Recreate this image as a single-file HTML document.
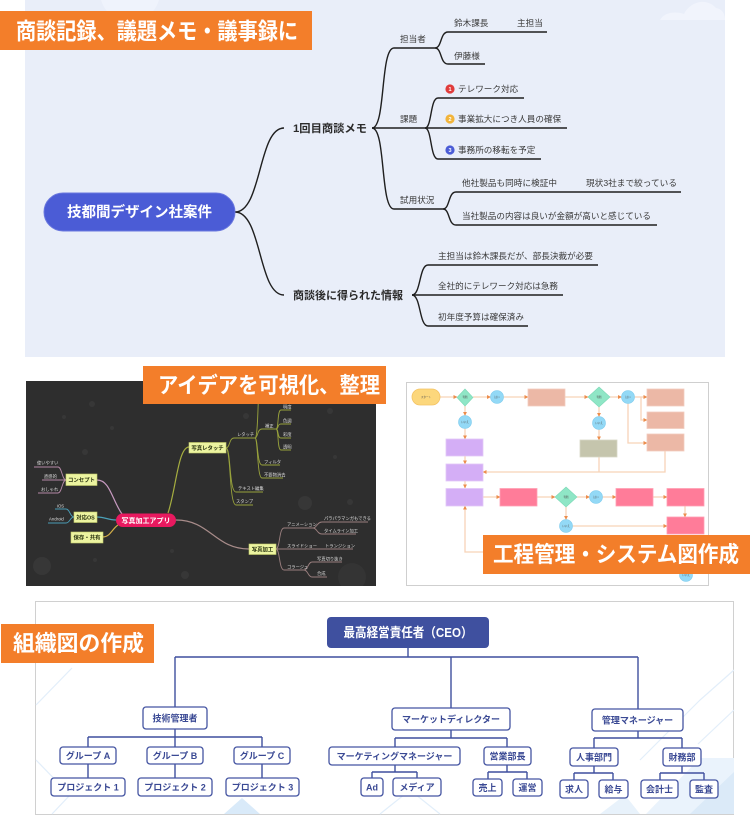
<!DOCTYPE html>
<html><head><meta charset="utf-8">
<style>
html,body{margin:0;padding:0;background:#fff;width:750px;height:815px;overflow:hidden}
svg{display:block}
text{font-family:"Liberation Sans","Noto Sans CJK JP",sans-serif}
</style></head><body>
<svg width="750" height="815" viewBox="0 0 750 815" xmlns="http://www.w3.org/2000/svg">
<defs>
<marker id="ar" markerWidth="4" markerHeight="4" refX="3.6" refY="2" orient="auto" markerUnits="userSpaceOnUse"><path d="M0,0 L4,2 L0,4 z" fill="#ec8d4c"/></marker>
<clipPath id="dk"><rect x="26" y="381" width="350" height="205"/></clipPath>
</defs>

<!-- ================= TOP PANEL ================= -->
<rect x="25" y="0" width="700" height="357" fill="#e9eef9"/>
<circle cx="130" cy="-8" r="30" fill="#eff3fc"/>
<path d="M660,20 C664,12 676,11 684,14 C690,2 706,-3 716,8 C721,9 725,12 725,20 Z" fill="#f1f4fc"/>

<rect x="0" y="11" width="312" height="39" fill="#f37e2a"/>
<text x="16" y="39" font-size="23" font-weight="bold" fill="#fff" textLength="282" lengthAdjust="spacingAndGlyphs">商談記録、議題メモ・議事録に</text>

<g fill="none" stroke="#1f1f1f" stroke-width="1.4">
<path d="M235,212 C262,212 258,128 284,128"/>
<path d="M235,212 C262,212 258,295 284,295"/>
<path d="M372,128 C386,128 380,48 394,48 L435,48"/>
<path d="M372,128 L425,128"/>
<path d="M372,128 C386,128 380,209 394,209 L443,209"/>
<path d="M435,48 C442,48 440,32 448,32 L547,32"/>
<path d="M435,48 C442,48 440,64 448,64 L485,64"/>
<path d="M425,128 C432,128 430,98 438,98 L524,98"/>
<path d="M425,128 L567,128"/>
<path d="M425,128 C432,128 430,159 438,159 L541,159"/>
<path d="M443,209 C450,209 448,192 456,192 L681,192"/>
<path d="M443,209 C450,209 448,225 456,225 L657,225"/>
<path d="M412,295 C421,295 419,265 428,265 L598,265"/>
<path d="M412,295 L563,295"/>
<path d="M412,295 C421,295 419,326 428,326 L528,326"/>
</g>

<rect x="44" y="193" width="191" height="38" rx="19" fill="#4b5cd6" stroke="#6a78de" stroke-width="1"/>
<text x="139.5" y="217" font-size="14.5" font-weight="bold" fill="#fff" text-anchor="middle" textLength="145" lengthAdjust="spacingAndGlyphs">技都間デザイン社案件</text>

<g fill="#2b2b2b">
<text x="293" y="132" font-size="11" font-weight="bold" textLength="74" lengthAdjust="spacingAndGlyphs">1回目商談メモ</text>
<text x="293" y="299" font-size="11" font-weight="bold" textLength="110" lengthAdjust="spacingAndGlyphs">商談後に得られた情報</text>
</g>
<g fill="#3a3a3a" font-size="8.6">
<text x="400" y="42">担当者</text>
<text x="454" y="26">鈴木課長</text>
<text x="517" y="26">主担当</text>
<text x="454" y="59">伊藤様</text>
<text x="400" y="122">課題</text>
<text x="458" y="92">テレワーク対応</text>
<text x="458" y="122">事業拡大につき人員の確保</text>
<text x="458" y="153">事務所の移転を予定</text>
<text x="400" y="203">試用状況</text>
<text x="462" y="186" textLength="95" lengthAdjust="spacingAndGlyphs">他社製品も同時に検証中</text>
<text x="586" y="186" textLength="91" lengthAdjust="spacingAndGlyphs">現状3社まで絞っている</text>
<text x="462" y="219" textLength="189" lengthAdjust="spacingAndGlyphs">当社製品の内容は良いが金額が高いと感じている</text>
<text x="438" y="259" textLength="155" lengthAdjust="spacingAndGlyphs">主担当は鈴木課長だが、部長決裁が必要</text>
<text x="438" y="289" textLength="120" lengthAdjust="spacingAndGlyphs">全社的にテレワーク対応は急務</text>
<text x="438" y="320">初年度予算は確保済み</text>
</g>
<circle cx="450" cy="89" r="4.6" fill="#e03b3b"/>
<circle cx="450" cy="119" r="4.6" fill="#f2b43a"/>
<circle cx="450" cy="150" r="4.6" fill="#4b5cd6"/>
<g fill="#fff" font-size="5.5" font-weight="bold" text-anchor="middle">
<text x="450" y="91">1</text><text x="450" y="121">2</text><text x="450" y="152">3</text>
</g>

<!-- ================= DARK MIND MAP ================= -->
<rect x="26" y="381" width="350" height="205" fill="#2e2e2e"/>
<g fill="#373737" clip-path="url(#dk)">
<circle cx="92" cy="404" r="3"/><circle cx="85" cy="452" r="3"/><circle cx="42" cy="566" r="9"/>
<circle cx="305" cy="503" r="7"/><circle cx="185" cy="575" r="4"/><circle cx="352" cy="577" r="14" fill="#343434"/>
<circle cx="112" cy="428" r="2"/><circle cx="64" cy="417" r="2"/><circle cx="335" cy="457" r="2"/>
<circle cx="330" cy="411" r="3"/><circle cx="246" cy="416" r="3"/><circle cx="350" cy="502" r="3"/>
<circle cx="172" cy="551" r="2"/><circle cx="95" cy="560" r="2"/>
</g>

<g fill="none" stroke-width="1.2">
<path d="M122,514 C112,500 110,480 97,480" stroke="#c79ac0"/>
<path d="M116,520 C108,520 105,517 97,517" stroke="#4aa0b8"/>
<path d="M118,525 C112,529 110,537 103,537" stroke="#d2ae48"/>
<path d="M168,513 C176,490 178,447 189,447" stroke="#a6ae40"/>
<path d="M176,520 C210,520 215,549 249,549" stroke="#a88c8a"/>
</g>
<g fill="none" stroke-width="0.9">
<g stroke="#b488a6">
<path d="M66,480 C62,480 62,467 58,467 L34,467"/>
<path d="M66,480 L42,480"/>
<path d="M66,480 C62,480 62,493 58,493 L38,493"/>
</g>
<g stroke="#4a9cb5">
<path d="M74,517 C70,517 70,509 66,509 L55,509"/>
<path d="M74,517 C70,517 70,523 66,523 L48,523"/>
</g>
<g stroke="#98a23c">
<path d="M226,448 C230,448 229,438 234,438 L255,438"/>
<path d="M226,448 C231,448 229,492 236,492 L263,492"/>
<path d="M226,448 C231,448 229,505 236,505 L253,505"/>
<path d="M255,438 C258,438 257,429 262,429 L276,429"/>
<path d="M255,438 C258,438 257,465 262,465 L280,465"/>
<path d="M255,438 C258,438 257,478 262,478 L283,478"/>
<path d="M255,438 C258,438 258,400 259,381"/>
<path d="M276,429 C279,429 277,410 281,410 L291,410"/>
<path d="M276,429 C279,429 277,424 281,424 L291,424"/>
<path d="M276,429 C279,429 277,438 281,438 L291,438"/>
<path d="M276,429 C279,429 277,450 281,450 L291,450"/>
</g>
<g stroke="#9b7f7f">
<path d="M276,549 C280,549 279,528 284,528 L313,528"/>
<path d="M276,549 L353,549"/>
<path d="M276,549 C280,549 279,570 284,570 L304,570"/>
<path d="M313,528 C317,528 317,522 322,522 L368,522"/>
<path d="M313,528 C317,528 317,534 322,534 L356,534"/>
<path d="M304,570 C308,570 308,562 312,562 L342,562"/>
<path d="M304,570 C308,570 308,577 312,577 L327,577"/>
</g>
</g>

<rect x="116" y="513.5" width="60" height="13.5" rx="6.7" fill="#e8195f"/>
<text x="146" y="522.8" font-size="7" font-weight="bold" fill="#fff" text-anchor="middle">写真加工アプリ</text>

<g fill="#ecf4a0" stroke="#c3cc6a" stroke-width="0.6">
<rect x="189" y="442.5" width="37" height="10.5"/>
<rect x="66" y="474" width="31" height="11.5"/>
<rect x="74" y="512" width="23" height="10.5"/>
<rect x="71" y="532" width="32" height="11"/>
<rect x="249" y="544" width="27" height="10.5"/>
</g>
<g fill="#2a3410" font-size="5.4" font-weight="bold" text-anchor="middle">
<text x="207.5" y="449.8">写真レタッチ</text>
<text x="81.5" y="481.8">コンセプト</text>
<text x="85.5" y="519.3">対応OS</text>
<text x="87" y="539.5">保存・共有</text>
<text x="262.5" y="551.3">写真加工</text>
</g>
<g fill="#dcdcdc" font-size="4.3">
<text x="37" y="464.5">使いやすい</text>
<text x="44" y="478">直感的</text>
<text x="41" y="491">おしゃれ</text>
<text x="57" y="507.5">iOS</text>
<text x="49" y="520.5">Android</text>
<text x="237" y="436">レタッチ</text>
<text x="265" y="427.5">補正</text>
<text x="283" y="408.5">明度</text>
<text x="283" y="422.5">色調</text>
<text x="283" y="436">彩度</text>
<text x="283" y="448.5">透明</text>
<text x="264" y="463.5">フィルタ</text>
<text x="264" y="476.5">不要物消去</text>
<text x="238" y="490">テキスト編集</text>
<text x="236" y="503">スタンプ</text>
<text x="287" y="526">アニメーション</text>
<text x="287" y="547.5">スライドショー</text>
<text x="325" y="547.5">トランジション</text>
<text x="287" y="568.5">コラージュ</text>
<text x="324" y="520">パラパラマンガもできる</text>
<text x="324" y="532.5">タイムライン加工</text>
<text x="317" y="560.5">写真切り抜き</text>
<text x="317" y="575">合成</text>
</g>

<rect x="143" y="366" width="243" height="38" fill="#f37e2a"/>
<text x="158" y="393" font-size="22" font-weight="bold" fill="#fff" textLength="222" lengthAdjust="spacingAndGlyphs">アイデアを可視化、整理</text>

<!-- ================= FLOWCHART ================= -->
<rect x="406.5" y="382.5" width="302" height="203" fill="#fff" stroke="#cfcfcf" stroke-width="1"/>
<g fill="none" stroke="#f7d3b8" stroke-width="1.3" marker-end="url(#ar)">
<path d="M440,397 L457,397"/>
<path d="M473,397 L490.5,397"/>
<path d="M503.5,397 L528,397"/>
<path d="M565,397 L588,397"/>
<path d="M610,397 L621.5,397"/>
<path d="M634.5,397 L647,397"/>
<path d="M641,397 L641,420 L647,420"/>
<path d="M628,403.5 L628,443 L647,443"/>
<path d="M465,406 L465,415.5"/>
<path d="M465,428.5 L465,439"/>
<path d="M465,456 L465,464"/>
<path d="M465,481 L465,488"/>
<path d="M599,407 L599,416.5"/>
<path d="M599,429.5 L599,440"/>
<path d="M665,451 L665,472 L483,472"/>
<path d="M483,497 L500,497"/>
<path d="M537,497 L555,497"/>
<path d="M577,497 L589.5,497"/>
<path d="M602.5,497 L616,497"/>
<path d="M653,497 L667,497"/>
<path d="M685,506 L685,517"/>
<path d="M566,507 L566,519.5"/>
<path d="M572.5,526 L667,526"/>
<path d="M500,552 L465,552 L465,506"/>
</g>
<path d="M599,457 L599,472" stroke="#f7d3b8" stroke-width="1.3" fill="none"/>

<rect x="412" y="389" width="28" height="16" rx="8" fill="#fcd77c" stroke="#f4c465" stroke-width="0.8"/>
<polygon points="465,389 473,397.5 465,406 457,397.5" fill="#8fe6c6" stroke="#7dd9b7" stroke-width="0.6"/>
<polygon points="599,387 610,397 599,407 588,397" fill="#8fe6c6" stroke="#7dd9b7" stroke-width="0.6"/>
<polygon points="566,487 577,497 566,507 555,497" fill="#8fe6c6" stroke="#7dd9b7" stroke-width="0.6"/>
<g fill="#93d9f6" stroke="#7ecbed" stroke-width="0.6">
<circle cx="497" cy="397" r="6.5"/>
<circle cx="628" cy="397" r="6.5"/>
<circle cx="465" cy="422" r="6.5"/>
<circle cx="599" cy="423" r="6.5"/>
<circle cx="596" cy="497" r="6.5"/>
<circle cx="566" cy="526" r="6.5"/>
<circle cx="686" cy="575" r="6.5"/>
</g>
<g fill="#ecb8a6" stroke="#f2cdbf" stroke-width="0.8">
<rect x="528" y="389" width="37" height="17"/>
<rect x="647" y="389" width="37" height="17"/>
<rect x="647" y="412" width="37" height="16.5"/>
<rect x="647" y="434" width="37" height="17"/>
</g>
<rect x="580" y="440" width="37" height="17" fill="#c5c5ad" stroke="#d8d8c6" stroke-width="0.8"/>
<g fill="#d4aef6" stroke="#e2c8f8" stroke-width="0.8">
<rect x="446" y="439" width="37" height="17"/>
<rect x="446" y="464" width="37" height="17"/>
<rect x="446" y="488.5" width="37" height="17.5"/>
</g>
<g fill="#ff7c99" stroke="#ffa0b4" stroke-width="0.8">
<rect x="500" y="488.5" width="37" height="17.5"/>
<rect x="616" y="488.5" width="37" height="17.5"/>
<rect x="667" y="488.5" width="37" height="17.5"/>
<rect x="667" y="517" width="37" height="17"/>
</g>
<g fill="#555" font-size="2.6" text-anchor="middle">
<text x="426" y="398">スタート</text>
<text x="465" y="398.2">判断</text><text x="599" y="398">判断</text><text x="566" y="498">判断</text>
<text x="497" y="398">はい</text><text x="628" y="398">はい</text><text x="596" y="498">はい</text>
<text x="465" y="423">いいえ</text><text x="599" y="424">いいえ</text><text x="566" y="527">いいえ</text><text x="686" y="576">いいえ</text>
</g>

<rect x="483" y="535" width="267" height="39" fill="#f37e2a"/>
<text x="493" y="562" font-size="22" font-weight="bold" fill="#fff" textLength="246" lengthAdjust="spacingAndGlyphs">工程管理・システム図作成</text>

<!-- ================= ORG CHART ================= -->
<rect x="35.5" y="601.5" width="698" height="213" fill="#fff" stroke="#d0d0d0" stroke-width="1"/>
<g fill="none" stroke="#e2eefa" stroke-width="1.2">
<path d="M36,705 L72,668"/>
<path d="M36,760 L70,795 L52,814"/>
<path d="M640,760 L700,700 L734,670"/>
<path d="M698,744 L734,710"/>
<path d="M380,814 L410,790 L440,814"/>
</g>
<polygon points="224,814 242,798 260,814" fill="#d9eaf9"/>
<polygon points="646,814 700,758 734,758 734,814" fill="#eaf3fc"/>
<polygon points="690,814 734,772 734,814" fill="#dbeaf8"/>
<polygon points="600,814 625,795 640,814" fill="#e8f2fb"/>

<g fill="none" stroke="#3f4f9e" stroke-width="1.4">
<path d="M408,648 L408,657"/>
<path d="M175,657 L638,657"/>
<path d="M175,657 L175,707 M451,657 L451,708 M638,657 L638,709"/>
<path d="M175,729 L175,737 M88,737 L262,737 M88,737 L88,747 M175,737 L175,747 M262,737 L262,747"/>
<path d="M88,764 L88,778 M175,764 L175,778 M262,764 L262,778"/>
<path d="M451,730 L451,738 M395,738 L507,738 M395,738 L395,747 M507,738 L507,747"/>
<path d="M395,765 L395,772 M372,772 L417,772 M372,772 L372,778 M417,772 L417,778"/>
<path d="M507,765 L507,772 M488,772 L527,772 M488,772 L488,779 M527,772 L527,779"/>
<path d="M638,731 L638,738 M594,738 L682,738 M594,738 L594,748 M682,738 L682,748"/>
<path d="M594,766 L594,773 M574,773 L613,773 M574,773 L574,780 M613,773 L613,780"/>
<path d="M682,766 L682,773 M660,773 L704,773 M660,773 L660,780 M704,773 L704,780"/>
</g>

<rect x="327" y="617" width="162" height="31" rx="4" fill="#3f509f"/>
<text x="408" y="637" font-size="13" font-weight="bold" fill="#fff" text-anchor="middle" textLength="129" lengthAdjust="spacingAndGlyphs">最高経営責任者（CEO）</text>

<g fill="#fff" stroke="#4555a2" stroke-width="1.3">
<rect x="143" y="707" width="64" height="22" rx="3"/>
<rect x="392" y="708" width="118" height="22" rx="3"/>
<rect x="592" y="709" width="91" height="22" rx="3"/>
<rect x="60" y="747" width="56" height="17" rx="3"/>
<rect x="147" y="747" width="56" height="17" rx="3"/>
<rect x="234" y="747" width="56" height="17" rx="3"/>
<rect x="51" y="778" width="74" height="18" rx="3"/>
<rect x="138" y="778" width="74" height="18" rx="3"/>
<rect x="226" y="778" width="73" height="18" rx="3"/>
<rect x="329" y="747" width="131" height="18" rx="3"/>
<rect x="484" y="747" width="47" height="18" rx="3"/>
<rect x="361" y="778" width="22" height="18" rx="3"/>
<rect x="393" y="778" width="48" height="18" rx="3"/>
<rect x="473" y="779" width="29" height="17" rx="3"/>
<rect x="513" y="779" width="29" height="17" rx="3"/>
<rect x="570" y="748" width="48" height="18" rx="3"/>
<rect x="663" y="748" width="38" height="18" rx="3"/>
<rect x="560" y="780" width="28" height="18" rx="3"/>
<rect x="599" y="780" width="29" height="18" rx="3"/>
<rect x="641" y="780" width="37" height="18" rx="3"/>
<rect x="690" y="780" width="28" height="18" rx="3"/>
</g>
<g fill="#3a4994" font-size="9" font-weight="bold" text-anchor="middle">
<text x="175" y="721.3">技術管理者</text>
<text x="451" y="722.3">マーケットディレクター</text>
<text x="637.5" y="723.3">管理マネージャー</text>
<text x="88" y="758.8">グループ A</text>
<text x="175" y="758.8">グループ B</text>
<text x="262" y="758.8">グループ C</text>
<text x="88" y="790.3">プロジェクト 1</text>
<text x="175" y="790.3">プロジェクト 2</text>
<text x="262.5" y="790.3">プロジェクト 3</text>
<text x="394.5" y="759.3">マーケティングマネージャー</text>
<text x="507.5" y="759.3">営業部長</text>
<text x="372" y="790.3">Ad</text>
<text x="417" y="790.3">メディア</text>
<text x="487.5" y="790.8">売上</text>
<text x="527.5" y="790.8">運営</text>
<text x="594" y="760.3">人事部門</text>
<text x="682" y="760.3">財務部</text>
<text x="574" y="792.3">求人</text>
<text x="613.5" y="792.3">給与</text>
<text x="659.5" y="792.3">会計士</text>
<text x="704" y="792.3">監査</text>
</g>

<rect x="1" y="624" width="153" height="39" fill="#f37e2a"/>
<text x="13" y="651" font-size="22" font-weight="bold" fill="#fff" textLength="131" lengthAdjust="spacingAndGlyphs">組織図の作成</text>
</svg>
</body></html>
